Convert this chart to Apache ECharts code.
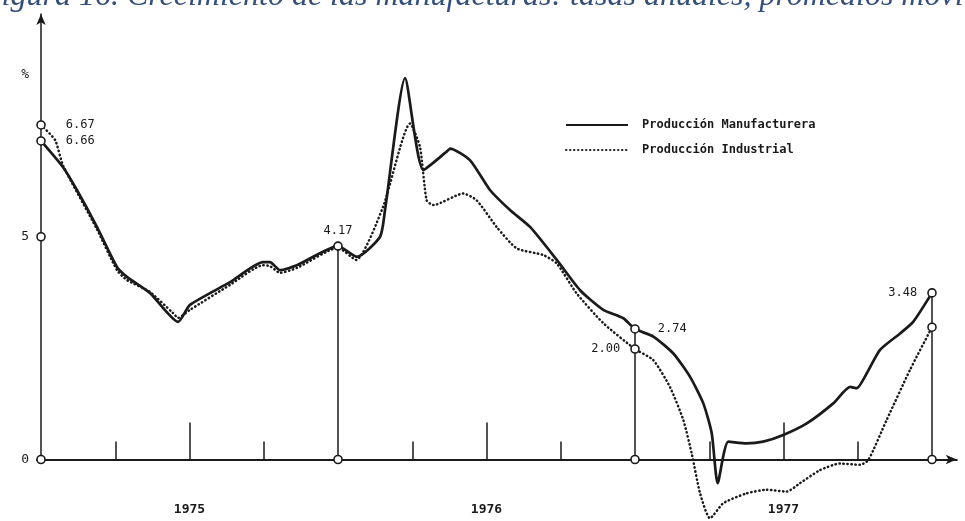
<!DOCTYPE html>
<html>
<head>
<meta charset="utf-8">
<script src="https://cdn.jsdelivr.net/npm/echarts@6/dist/echarts.min.js"></script>
<style>html,body{margin:0;padding:0;background:#fff;}#c{width:965px;height:521px;}</style>
</head>
<body>
<div id="c"></div>
<script>
// ---- data (x = months from start of 1975, y = chart units) ----
const titleText = 'Figura 16. Crecimiento de las manufacturas: tasas anuales, promedios móviles';
const seriesNames = ['Producción Manufacturera', 'Producción Industrial'];
const solid = [[0,7.15],[0.89,6.56],[1.45,6.05],[2.26,5.22],[3.07,4.32],[3.47,4.10],[4.40,3.74],[5.54,3.09],[6.02,3.47],[7.64,3.98],[8.97,4.43],[9.25,4.43],[9.66,4.25],[10.34,4.36],[12,4.79],[12.76,4.55],[13.70,5.00],[13.90,5.60],[14.71,8.56],[15.45,6.50],[16.39,6.91],[16.53,6.98],[17.33,6.72],[18.14,6.05],[18.95,5.60],[19.76,5.22],[20.84,4.48],[21.78,3.80],[22.72,3.36],[23.53,3.17],[24,2.93],[24.74,2.76],[25.55,2.38],[26.22,1.86],[26.76,1.26],[27.10,0.59],[27.34,-0.53],[27.77,0.40],[28.51,0.36],[29.18,0.40],[29.99,0.55],[30.94,0.81],[32.01,1.26],[32.69,1.63],[32.96,1.60],[33.36,1.93],[33.90,2.46],[34.71,2.83],[35.24,3.09],[36,3.74]];
const dotted = [[0,7.51],[0.57,7.17],[0.89,6.60],[2.26,5.17],[3.07,4.25],[3.47,4.03],[4.40,3.76],[5.33,3.29],[5.54,3.18],[6.02,3.36],[7.64,3.92],[8.97,4.36],[9.25,4.34],[9.66,4.19],[10.34,4.30],[12,4.75],[12.73,4.48],[13.82,5.67],[14.91,7.54],[15.31,7.02],[15.58,5.82],[15.85,5.71],[17.06,5.97],[17.60,5.82],[18.41,5.22],[19.22,4.74],[20.29,4.59],[20.84,4.40],[21.64,3.73],[22.72,3.06],[24,2.48],[24.74,2.23],[25.41,1.63],[25.95,0.89],[26.29,0.14],[26.63,-0.76],[27.03,-1.32],[27.57,-0.98],[28.51,-0.76],[29.32,-0.68],[30.13,-0.72],[30.67,-0.53],[31.47,-0.24],[32.28,-0.09],[33.09,-0.12],[33.43,-0.01],[34.17,0.89],[35.11,2.01],[36,2.97]];
const circledPoints = [[0,7.51],[0,7.15],[0,5],[0,0],[12,0],[12,4.79],[24,0],[24,2.93],[24,2.48],[36,0],[36,3.74],[36,2.97]];
const circleText = ['6.67','6.66','','','','4.17','','2.74','2.00','','3.48',''];
const yearBounds = [12, 24, 36];
const yearCenters = [6, 18, 30];
const yearLabels = ['1975', '1976', '1977'];
const quarterTicks = [3, 9, 15, 21, 27, 33];
const yLabelValues = [0, 5, 8.63];
const yLabelTexts = ['0', '5', '%'];

// ---- styles ----
const INK = '#1a1a1a';
const MONO = '"DejaVu Sans Mono", "Liberation Mono", monospace';
const TALL_TICK = 0.83;
const labelPlace = {
  '6.67': {position: 'right', distance: 20},
  '6.66': {position: 'right', distance: 20},
  '4.17': {position: 'top', distance: 4},
  '2.74': {position: 'right', distance: 18},
  '2.00': {position: 'left', distance: 10},
  '3.48': {position: 'left', distance: 10}
};

function topAt(x) {
  let m = 0;
  [solid, dotted].forEach(s => s.forEach(p => { if (p[0] === x) m = Math.max(m, p[1]); }));
  return m;
}

const guideLines = [];
yearCenters.forEach(x => guideLines.push([{coord: [x, 0]}, {coord: [x, TALL_TICK]}]));
yearBounds.forEach(x => guideLines.push([{coord: [x, 0]}, {coord: [x, topAt(x)]}]));

const circleData = circledPoints.map((p, i) => {
  const t = circleText[i];
  const item = {value: p};
  if (t) {
    item.label = Object.assign({show: true, formatter: t}, labelPlace[t]);
  }
  return item;
});

const chart = echarts.init(document.getElementById('c'), null, {renderer: 'canvas'});
chart.setOption({
  backgroundColor: '#fff',
  animation: false,
  grid: {left: 41, right: 8.25, top: 14, bottom: 61.5},
  graphic: [{
    type: 'text', x: -18, y: -3,
    style: {text: titleText, fontFamily: '"Liberation Serif", "DejaVu Serif", serif', fontStyle: 'italic', fontSize: 32, fill: '#34507a', verticalAlign: 'middle'}
  }],
  legend: {
    orient: 'vertical', left: 560, top: 114, itemWidth: 62, itemHeight: 14, itemGap: 13,
    data: seriesNames,
    itemStyle: {opacity: 0},
    textStyle: {fontFamily: MONO, fontSize: 12, fontWeight: 'bold', color: INK, padding: [0, 0, 0, 9]}
  },
  xAxis: {
    type: 'value', min: 0, max: 37,
    splitLine: {show: false},
    axisLine: {onZero: true, symbol: ['none', 'arrow'], symbolSize: [7, 11], lineStyle: {color: INK, width: 2}},
    axisTick: {show: true, customValues: quarterTicks, inside: true, length: 18, lineStyle: {color: INK, width: 1.5}},
    axisLabel: {customValues: yearCenters, formatter: v => yearLabels[yearCenters.indexOf(v)] || '', margin: 44, fontFamily: MONO, fontSize: 13, fontWeight: 'bold', color: INK}
  },
  yAxis: {
    type: 'value', min: 0, max: 10,
    splitLine: {show: false},
    axisLine: {show: true, symbol: ['none', 'arrow'], symbolSize: [7, 11], lineStyle: {color: INK, width: 1.5}},
    axisTick: {show: true, customValues: [0], length: 5, lineStyle: {color: INK, width: 1.5}},
    axisLabel: {customValues: yLabelValues, formatter: v => { const i = yLabelValues.indexOf(v); return i >= 0 ? yLabelTexts[i] : ''; }, margin: 12, fontFamily: MONO, fontSize: 13, color: INK}
  },
  series: [
    {
      name: seriesNames[0], type: 'line', data: solid, smooth: 0.2, symbol: 'none', clip: false, z: 5,
      lineStyle: {color: INK, width: 2.7}, itemStyle: {color: INK}
    },
    {
      name: seriesNames[1], type: 'line', data: dotted, smooth: 0.2, symbol: 'none', clip: false, z: 4,
      lineStyle: {color: INK, width: 2.5, type: [0.4, 3.6], cap: 'round'}, itemStyle: {color: INK}
    },
    {
      name: 'guides', type: 'line', data: [], symbol: 'none', silent: true,
      markLine: {silent: true, symbol: ['none', 'none'], label: {show: false}, lineStyle: {color: INK, width: 1.5, type: 'solid'}, data: guideLines}
    },
    {
      name: 'points', type: 'scatter', data: circleData, symbol: 'circle', symbolSize: 8, z: 10, silent: true, clip: false,
      itemStyle: {color: '#fff', borderColor: INK, borderWidth: 1.6, opacity: 1},
      label: {show: false, fontFamily: MONO, fontSize: 12, color: INK}
    }
  ]
});
</script>
</body>
</html>
